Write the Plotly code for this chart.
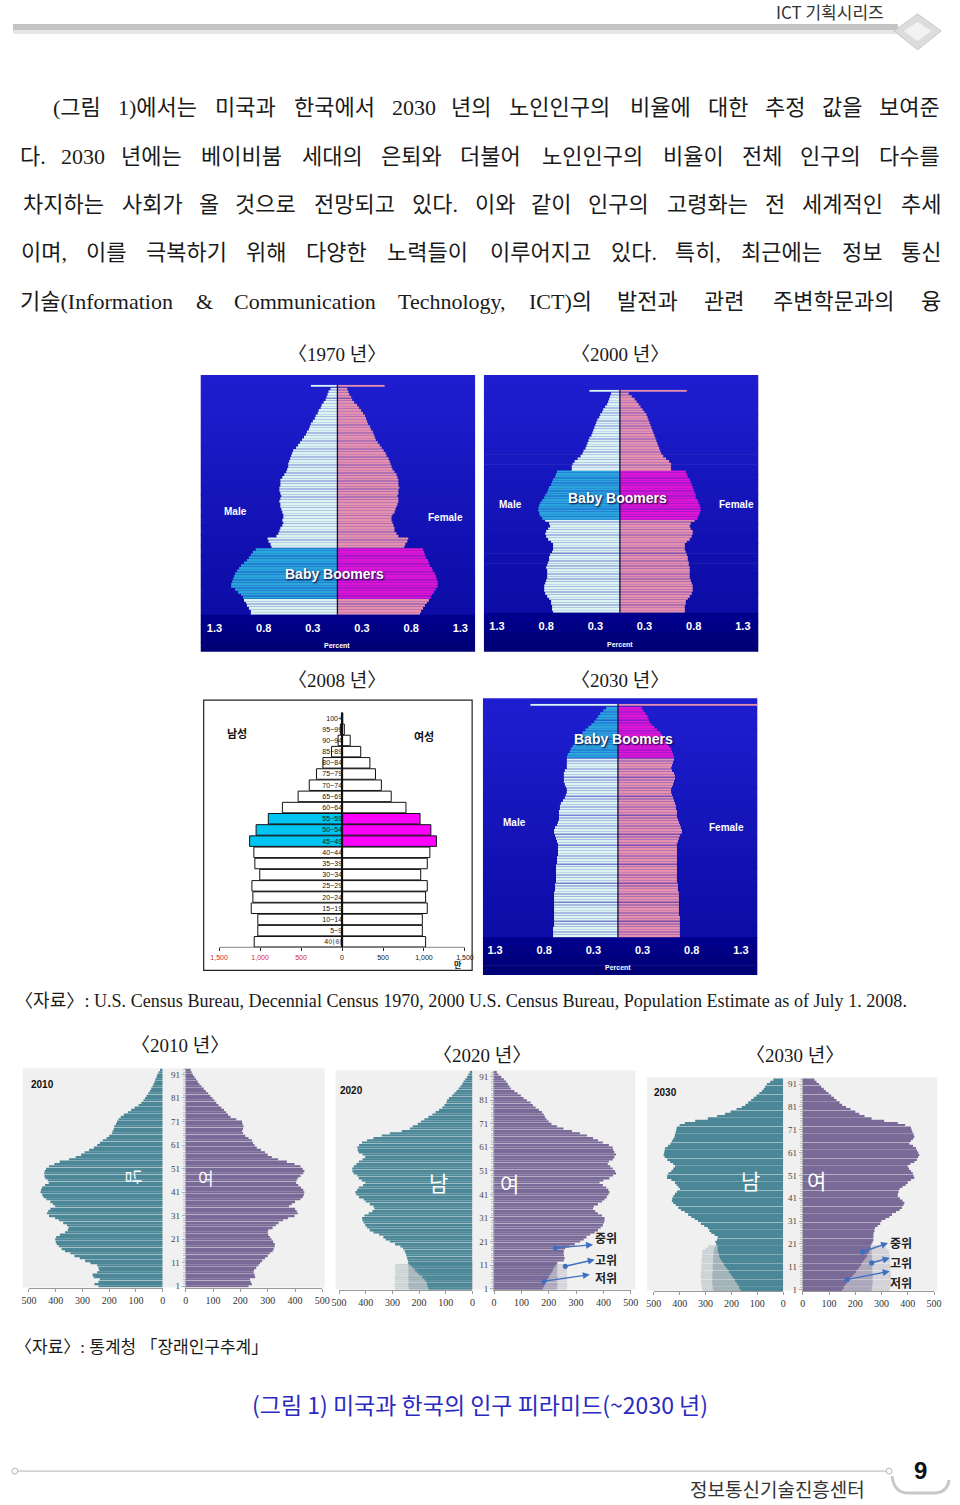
import plotly.graph_objects as go

W, H = 960, 1505


def fx(x):
    return x / W


def fy(y):
    return 1 - y / H


# ============================ DATA ============================
# ---- US Census single-year pyramids (percent of population), ages 0..84, last entry = 85+ ----
us_ages = list(range(86))

us1970_male = [0.88, 0.88, 0.90, 0.92, 0.93, 0.95, 0.96, 0.98, 1.01, 1.04,
               1.08, 1.08, 1.07, 1.06, 1.05, 1.04, 1.02, 1.00, 0.98, 0.95,
               0.92, 0.90, 0.88, 0.86, 0.83, 0.67, 0.68, 0.70, 0.71, 0.62,
               0.60, 0.59, 0.58, 0.56, 0.55, 0.56, 0.55, 0.55, 0.56, 0.57,
               0.58, 0.58, 0.59, 0.58, 0.57, 0.58, 0.59, 0.59, 0.58, 0.58,
               0.58, 0.56, 0.54, 0.52, 0.51, 0.50, 0.50, 0.49, 0.48, 0.47,
               0.46, 0.45, 0.42, 0.40, 0.38, 0.36, 0.34, 0.32, 0.31, 0.29,
               0.28, 0.27, 0.25, 0.23, 0.22, 0.20, 0.19, 0.17, 0.16, 0.14,
               0.12, 0.11, 0.10, 0.09, 0.07, 0.27]
us1970_female = [0.84, 0.85, 0.87, 0.89, 0.91, 0.93, 0.95, 0.96, 0.98, 1.00,
                 1.02, 1.02, 1.02, 1.01, 1.00, 0.99, 0.97, 0.96, 0.94, 0.93,
                 0.92, 0.90, 0.89, 0.88, 0.87, 0.68, 0.69, 0.71, 0.72, 0.62,
                 0.60, 0.58, 0.58, 0.57, 0.56, 0.55, 0.55, 0.56, 0.58, 0.59,
                 0.60, 0.61, 0.62, 0.62, 0.61, 0.62, 0.62, 0.63, 0.62, 0.62,
                 0.62, 0.61, 0.60, 0.58, 0.56, 0.55, 0.54, 0.53, 0.52, 0.50,
                 0.49, 0.47, 0.45, 0.43, 0.41, 0.39, 0.38, 0.37, 0.36, 0.34,
                 0.33, 0.31, 0.30, 0.29, 0.28, 0.26, 0.24, 0.22, 0.20, 0.17,
                 0.15, 0.14, 0.12, 0.11, 0.10, 0.48]
us1970_boomer_ages = [6, 24]

us2000_male = [0.68, 0.69, 0.69, 0.70, 0.70, 0.72, 0.74, 0.76, 0.77, 0.77,
               0.77, 0.76, 0.75, 0.74, 0.74, 0.74, 0.74, 0.75, 0.74, 0.73,
               0.72, 0.72, 0.71, 0.69, 0.68, 0.68, 0.68, 0.70, 0.73, 0.75,
               0.76, 0.75, 0.73, 0.71, 0.72, 0.76, 0.79, 0.81, 0.82, 0.83,
               0.83, 0.82, 0.81, 0.79, 0.77, 0.76, 0.74, 0.73, 0.72, 0.70,
               0.69, 0.68, 0.66, 0.65, 0.64, 0.49, 0.49, 0.48, 0.46, 0.43,
               0.40, 0.38, 0.37, 0.35, 0.34, 0.33, 0.32, 0.31, 0.29, 0.28,
               0.27, 0.26, 0.25, 0.24, 0.23, 0.21, 0.20, 0.18, 0.17, 0.15,
               0.13, 0.12, 0.11, 0.10, 0.09, 0.31]
us2000_female = [0.66, 0.66, 0.66, 0.67, 0.67, 0.69, 0.71, 0.73, 0.74, 0.74,
                 0.74, 0.73, 0.72, 0.71, 0.71, 0.71, 0.71, 0.71, 0.70, 0.70,
                 0.69, 0.69, 0.68, 0.67, 0.66, 0.66, 0.66, 0.68, 0.71, 0.73,
                 0.74, 0.74, 0.72, 0.71, 0.72, 0.76, 0.79, 0.80, 0.81, 0.82,
                 0.82, 0.81, 0.80, 0.79, 0.77, 0.77, 0.76, 0.75, 0.74, 0.73,
                 0.72, 0.71, 0.69, 0.68, 0.67, 0.52, 0.52, 0.52, 0.50, 0.47,
                 0.44, 0.42, 0.41, 0.40, 0.39, 0.38, 0.37, 0.36, 0.35, 0.34,
                 0.33, 0.32, 0.31, 0.30, 0.29, 0.28, 0.27, 0.25, 0.23, 0.21,
                 0.19, 0.17, 0.15, 0.12, 0.09, 0.68]
us2000_boomer_ages = [36, 54]

us2030_male = [0.66, 0.66, 0.66, 0.66, 0.65, 0.65, 0.65, 0.65, 0.65, 0.65,
               0.65, 0.65, 0.65, 0.65, 0.65, 0.65, 0.65, 0.64, 0.64, 0.64,
               0.63, 0.63, 0.63, 0.63, 0.63, 0.63, 0.63, 0.62, 0.62, 0.62,
               0.61, 0.61, 0.61, 0.61, 0.61, 0.62, 0.63, 0.64, 0.65, 0.65,
               0.64, 0.62, 0.61, 0.60, 0.60, 0.60, 0.60, 0.59, 0.59, 0.58,
               0.56, 0.54, 0.53, 0.52, 0.52, 0.53, 0.54, 0.55, 0.55, 0.55,
               0.55, 0.54, 0.52, 0.52, 0.52, 0.52, 0.52, 0.51, 0.49, 0.48,
               0.46, 0.44, 0.43, 0.41, 0.39, 0.36, 0.33, 0.30, 0.27, 0.24,
               0.22, 0.20, 0.18, 0.15, 0.12, 0.89]
us2030_female = [0.63, 0.63, 0.63, 0.63, 0.63, 0.63, 0.63, 0.63, 0.62, 0.62,
                 0.62, 0.62, 0.62, 0.62, 0.62, 0.62, 0.62, 0.61, 0.61, 0.61,
                 0.60, 0.60, 0.60, 0.60, 0.60, 0.60, 0.60, 0.60, 0.60, 0.60,
                 0.60, 0.60, 0.60, 0.60, 0.60, 0.61, 0.62, 0.63, 0.65, 0.65,
                 0.64, 0.63, 0.62, 0.61, 0.60, 0.60, 0.60, 0.59, 0.59, 0.58,
                 0.57, 0.56, 0.55, 0.54, 0.54, 0.55, 0.56, 0.57, 0.58, 0.58,
                 0.57, 0.55, 0.54, 0.55, 0.56, 0.57, 0.57, 0.56, 0.55, 0.54,
                 0.52, 0.50, 0.49, 0.47, 0.45, 0.43, 0.40, 0.37, 0.34, 0.32,
                 0.31, 0.30, 0.28, 0.26, 0.24, 1.45]
us2030_boomer_ages = [66, 84]

us_tick_vals = [-1.25, -0.75, -0.25, 0.25, 0.75, 1.25]
us_tick_text = ["1.3", "0.8", "0.3", "0.3", "0.8", "1.3"]

# ---- US 2008 five-year groups (만 명) ----
us2008_groups = ["4이하", "5~9", "10~14", "15~19", "20~24", "25~29", "30~34",
                 "35~39", "40~44", "45~49", "50~54", "55~59", "60~64", "65~69",
                 "70~74", "75~79", "80~84", "85~89", "90~94", "95~99", "100+"]
us2008_male = [1072, 1028, 1028, 1108, 1088, 1100, 1004, 1064, 1076, 1128, 1049,
               900, 728, 536, 400, 312, 233, 128, 48, 20, 5]
us2008_female = [1020, 980, 980, 1040, 1020, 1040, 960, 1040, 1072, 1152, 1084,
                 952, 780, 600, 480, 408, 340, 228, 100, 28, 8]
us2008_boomer_groups = ["45~49", "50~54", "55~59"]
us2008_tick_vals = [-1500, -1000, -500, 0, 500, 1000, 1500]
us2008_tick_text = ["1,500", "1,000", "500", "0", "500", "1,000", "1,500"]

# ---- Korea projections (천 명) by age category 1..93 ----
kr_ages = list(range(1, 94))

kr2010_male = [240, 255, 240, 235, 258, 262, 245, 237, 240, 245,
               270, 290, 310, 330, 345, 365, 378, 388, 396, 400,
               402, 398, 384, 365, 355, 352, 358, 372, 388, 402,
               425, 433, 428, 420, 402, 410, 420, 435, 445, 450,
               457, 455, 451, 440, 426, 430, 439, 442, 443, 441,
               436, 425, 405, 385, 350, 325, 305, 292, 275, 257,
               245, 235, 224, 210, 200, 190, 187, 183, 181, 175,
               171, 165, 157, 145, 130, 118, 105, 90, 80, 72,
               66, 60, 54, 48, 43, 38, 34, 30, 27, 23,
               20, 15, 10]
kr2010_female = [230, 242, 238, 235, 254, 252, 248, 250, 258, 266,
                 272, 280, 290, 300, 308, 318, 322, 326, 326, 320,
                 314, 308, 302, 300, 302, 318, 330, 340, 356, 374,
                 398, 410, 406, 400, 378, 388, 400, 420, 428, 432,
                 434, 430, 422, 412, 404, 406, 410, 420, 430, 434,
                 428, 420, 398, 370, 338, 315, 300, 290, 275, 260,
                 252, 246, 242, 230, 218, 210, 206, 210, 212, 208,
                 206, 185, 164, 155, 148, 140, 130, 120, 112, 105,
                 98, 90, 82, 74, 66, 58, 50, 44, 38, 32,
                 26, 22, 18]

kr2020_male = [165, 168, 170, 174, 180, 188, 199, 207, 215, 224,
               232, 240, 242, 245, 248, 250, 254, 260, 270, 290,
               310, 325, 334, 350, 371, 385, 395, 402, 408, 412,
               414, 405, 389, 375, 368, 371, 385, 400, 408, 425,
               435, 439, 432, 426, 410, 402, 415, 426, 432, 445,
               450, 451, 445, 435, 426, 412, 402, 412, 426, 430,
               432, 425, 414, 395, 371, 340, 310, 265, 235, 224,
               205, 193, 180, 165, 150, 138, 125, 113, 105, 98,
               95, 88, 76, 68, 60, 52, 45, 38, 33, 27,
               20, 15, 10]
kr2020_female = [178, 182, 186, 190, 195, 200, 205, 210, 215, 220,
                 225, 230, 255, 258, 256, 254, 255, 260, 275, 295,
                 315, 328, 338, 352, 368, 380, 390, 398, 402, 404,
                 404, 395, 380, 370, 362, 365, 380, 395, 404, 412,
                 418, 422, 418, 410, 398, 386, 400, 422, 435, 446,
                 442, 434, 425, 416, 420, 434, 440, 446, 440, 436,
                 434, 420, 398, 380, 362, 340, 314, 285, 254, 230,
                 210, 200, 192, 186, 182, 175, 164, 152, 142, 134,
                 120, 108, 98, 86, 74, 62, 56, 50, 44, 36,
                 26, 16, 10]
kr2020_high_male = [290, 291, 292, 290, 291, 292, 290, 289, 290, 291, 289]
kr2020_mid_male = [238, 240, 241, 239, 240, 241, 240, 239, 240, 241, 240, 242]
kr2020_high_female = [266, 267, 268, 266, 267, 268, 267, 266, 267, 268, 266]
kr2020_mid_female = [230, 231, 232, 230, 231, 232, 231, 230, 231, 232, 231, 232]

kr2030_male = [165, 170, 175, 180, 186, 192, 198, 204, 210, 216,
               222, 228, 234, 240, 244, 248, 250, 252, 253, 253,
               259, 262, 255, 253, 265, 278, 285, 291, 305, 318,
               329, 342, 355, 367, 380, 395, 405, 415, 425, 430,
               428, 424, 418, 410, 399, 405, 412, 418, 432, 449,
               448, 443, 432, 425, 418, 425, 437, 448, 458, 462,
               460, 458, 456, 445, 435, 430, 425, 420, 418, 415,
               413, 411, 400, 380, 340, 291, 255, 225, 203, 180,
               160, 146, 135, 124, 114, 103, 92, 82, 75, 69,
               63, 50, 38]
kr2030_female = [150, 156, 162, 168, 175, 182, 189, 196, 203, 210,
                 216, 222, 228, 234, 240, 245, 250, 253, 256, 258,
                 262, 266, 269, 269, 269, 270, 273, 275, 285, 295,
                 300, 315, 330, 340, 355, 369, 378, 384, 387, 380,
                 370, 362, 362, 365, 369, 380, 392, 400, 412, 425,
                 422, 419, 412, 405, 400, 410, 425, 435, 440, 444,
                 440, 435, 431, 420, 406, 412, 420, 425, 422, 418,
                 415, 412, 390, 362, 310, 262, 235, 215, 200, 182,
                 165, 150, 140, 128, 119, 108, 98, 88, 80, 70,
                 62, 52, 44]
kr2030_high_male = [312, 314, 316, 317, 318, 318, 318, 318, 317, 317,
                    316, 316, 315, 315, 314, 314, 313, 312, 300, 290]
kr2030_mid_male = [270, 272, 273, 274, 274, 274, 274, 273, 273, 272,
                   272, 272, 271, 271, 270, 270, 269, 268, 266, 262]
kr2030_high_female = [330, 333, 335, 336, 336, 336, 336, 335, 335, 334,
                      334, 333, 333, 332, 332, 331, 330, 328, 320, 300]
kr2030_mid_female = [262, 264, 265, 266, 266, 266, 266, 266, 265, 265,
                     265, 264, 264, 264, 263, 263, 262, 262, 260, 258]

kr_age_ticks = [1, 11, 21, 31, 41, 51, 61, 71, 81, 91]
kr_x_ticks = [0, 100, 200, 300, 400, 500]

# ============================ STYLE ============================
SERIF = "Liberation Serif, Noto Sans CJK KR, serif"
SANS_KR = "Noto Sans CJK KR, sans-serif"
ARIAL = "Liberation Sans, Arial, sans-serif"

US_MALE = "#dcf4f1"
US_FEMALE = "#e690b0"
US_BOOM_M = "#2aa6dc"
US_BOOM_F = "#de16d4"
BLUE_TOP = (30, 30, 208)
BLUE_MID = (12, 12, 166)
BAND_TOP = (0, 0, 140)
BAND_BOT = (0, 0, 118)

KR_M = "#4b8797"
KR_M_MID = "#a3b5ba"
KR_M_HIGH = "#cdd4d7"
KR_F = "#796a98"
KR_F_MID = "#aea8bc"
KR_F_HIGH = "#d5d3da"
KR_BG = "#f0f0f0"

TIMES = {}
for chars, widths in [
    ("abcdefghijklmnopqrstuvwxyz",
     [444, 500, 444, 500, 444, 333, 500, 500, 278, 278, 500, 278, 778, 500, 500, 500, 500, 333, 389, 278, 500, 500, 722, 500, 500, 444]),
    ("ABCDEFGHIJKLMNOPQRSTUVWXYZ",
     [722, 667, 667, 722, 611, 556, 722, 722, 333, 389, 722, 611, 889, 722, 722, 556, 722, 667, 556, 611, 722, 722, 944, 722, 722, 611]),
]:
    for c, w in zip(chars, widths):
        TIMES[c] = w / 1000
for c in "0123456789":
    TIMES[c] = 0.5
TIMES.update({" ": 0.25, "(": 0.333, ")": 0.333, ",": 0.25, ".": 0.25, "&": 0.778,
              "~": 0.541, ":": 0.278, "〈": 1.0, "〉": 1.0, "「": 1.0, "」": 1.0})


def text_em(s):
    w = 0.0
    for ch in s:
        if "\uac00" <= ch <= "\ud7a3":
            w += 1.0
        else:
            w += TIMES.get(ch, 0.5)
    return w


fig = go.Figure()
layout_axes = {}
shapes = []
annotations = []


def names(i):
    s = "" if i == 1 else str(i)
    return "x" + s, "y" + s, "xaxis" + s, "yaxis" + s


def rect(x0, y0, x1, y1, fill, line=None, lw=0, layer="below"):
    shapes.append(dict(type="rect", xref="paper", yref="paper", x0=fx(x0), x1=fx(x1),
                       y0=fy(y1), y1=fy(y0), fillcolor=fill,
                       line=dict(color=line or fill, width=lw), layer=layer))


def gradient(x0, x1, y0, y1, c0, c1, n):
    for k in range(n):
        t = k / max(n - 1, 1)
        col = tuple(round(c0[j] + (c1[j] - c0[j]) * t) for j in range(3))
        ya = y0 + (y1 - y0) * k / n
        yb = y0 + (y1 - y0) * (k + 1) / n
        rect(x0, ya, x1, yb + 0.6, "rgb(%d,%d,%d)" % col)


def ann(text, x, y, size, color="#222", family=SANS_KR, xanchor="center", **kw):
    d = dict(text=text, x=fx(x), y=fy(y), xref="paper", yref="paper", showarrow=False,
             xanchor=xanchor, yanchor="middle", font=dict(size=size, color=color, family=family))
    d["font"].update(kw.pop("font_extra", {}))
    d.update(kw)
    annotations.append(d)


# ============================ US blue pyramids ============================
def us_panel(idx, male, female, boom, box, center_x, y0_px, y85_px, lbl):
    xa, ya, xan, yan = names(idx)
    bx0, bx1, by0, by1 = box
    step = (y0_px - y85_px) / 85
    top = y85_px - 0.5 * step
    bot = y0_px + 0.5 * step
    gradient(bx0, bx1, by0, bot, BLUE_TOP, BLUE_MID, 24)
    gradient(bx0, bx1, bot, by1, BAND_TOP, BAND_BOT, 4)
    lo, hi = boom
    cm = [US_BOOM_M if lo <= a <= hi else US_MALE for a in us_ages]
    cf = [US_BOOM_F if lo <= a <= hi else US_FEMALE for a in us_ages]
    widths = [0.45 if a == 85 else 0.72 for a in us_ages]
    fig.add_trace(go.Bar(x=[-v for v in male], y=us_ages, orientation="h", width=widths,
                         marker=dict(color=cm, line=dict(width=0)), xaxis=xa, yaxis=ya,
                         hoverinfo="skip", showlegend=False))
    fig.add_trace(go.Bar(x=female, y=us_ages, orientation="h", width=widths,
                         marker=dict(color=cf, line=dict(width=0)), xaxis=xa, yaxis=ya,
                         hoverinfo="skip", showlegend=False))
    layout_axes[xan] = dict(domain=[fx(bx0), fx(bx1)],
                            range=[(bx0 - center_x) / 100, (bx1 - center_x) / 100],
                            anchor=ya, tickvals=us_tick_vals, ticktext=us_tick_text,
                            ticks="", showline=False, showgrid=False, zeroline=False,
                            ticklabelstandoff=5,
                            tickfont=dict(family=ARIAL, size=11, color="white", weight="bold"))
    layout_axes[yan] = dict(domain=[fy(bot), fy(top)], range=[-0.5, 85.5], anchor=xa,
                            visible=False)
    shapes.append(dict(type="line", xref=xa, yref=ya + " domain", x0=0, x1=0, y0=0, y1=1,
                       line=dict(color="#101040", width=1.3), layer="above"))
    for t, (x, y, size) in lbl.items():
        if t == "Baby Boomers":
            ann(t, x, y, size, "white", ARIAL,
                font_extra=dict(weight="bold", shadow="1px 1px 2px #000033"))
        else:
            ann(t, x, y, size, "white", ARIAL, font_extra=dict(weight="bold"))


us_panel(1, us1970_male, us1970_female, us1970_boomer_ages, (196, 475, 376, 653), 335.0,
         615.0, 387.0,
         {"Male": (231, 513, 10), "Female": (445, 519, 10), "Baby Boomers": (332, 576, 14),
          "Percent": (335, 647, 7)})
us_panel(2, us2000_male, us2000_female, us2000_boomer_ages, (484, 763, 376, 653), 622.3,
         613.0, 392.0,
         {"Male": (511, 506, 10), "Female": (741, 506, 10), "Baby Boomers": (620, 499, 14),
          "Percent": (622, 646, 7)})
us_panel(4, us2030_male, us2030_female, us2030_boomer_ages, (483, 762, 700, 977), 620.3,
         938.5, 707.0,
         {"Male": (515, 825, 10), "Female": (731, 830, 10), "Baby Boomers": (626, 741, 14),
          "Percent": (620, 970, 7)})

# ============================ US 2008 (white) ============================
xa, ya, xan, yan = names(3)
rect(199, 702, 472, 973, "white", "#222", 1.2)
zero8 = 339.7
u_per_px = 12.0
c_top, c_bot = 720.0, 944.3
step8 = (c_bot - c_top) / 20
cm8 = [("#00c4f2" if g in us2008_boomer_groups else "white") for g in us2008_groups]
cf8 = [("#ff00ff" if g in us2008_boomer_groups else "white") for g in us2008_groups]
fig.add_trace(go.Bar(x=[-v for v in us2008_male], y=us2008_groups, orientation="h", width=0.94,
                     marker=dict(color=cm8, line=dict(color="#111", width=1)), xaxis=xa, yaxis=ya,
                     hoverinfo="skip", showlegend=False))
fig.add_trace(go.Bar(x=us2008_female, y=us2008_groups, orientation="h", width=0.94,
                     marker=dict(color=cf8, line=dict(color="#111", width=1)), xaxis=xa, yaxis=ya,
                     hoverinfo="skip", showlegend=False))
tt8 = [('<span style="color:#d02828">%s</span>' % t) if v < 0 else t
       for v, t in zip(us2008_tick_vals, us2008_tick_text)]
layout_axes[xan] = dict(domain=[fx(199), fx(472)],
                        range=[(199 - zero8) * u_per_px, (472 - zero8) * u_per_px], anchor=ya,
                        tickvals=us2008_tick_vals, ticktext=tt8, ticks="outside", ticklen=3,
                        tickcolor="#222", showline=False, showgrid=False, zeroline=False,
                        tickfont=dict(family=ARIAL, size=7, color="#111"))
layout_axes[yan] = dict(domain=[fy(c_bot + step8 / 2), fy(c_top - step8 / 2)],
                        range=[-0.5, 20.5], anchor="free", position=fx(zero8), side="left",
                        type="category", ticks="", showline=False, showgrid=False,
                        zeroline=False, tickfont=dict(family=ARIAL, size=7, color="#111"))
shapes.append(dict(type="line", xref=xa, yref=ya, x0=us2008_tick_vals[0], x1=us2008_tick_vals[-1],
                   y0=-0.5, y1=-0.5, line=dict(color="#222", width=1), layer="above"))
shapes.append(dict(type="line", xref=xa, yref=ya, x0=0, x1=0, y0=-0.5, y1=20.6,
                   line=dict(color="#111", width=2.2), layer="above"))
ann("남성", 233, 735, 11, "#111", SANS_KR, font_extra=dict(weight="bold"))
ann("여성", 423, 738, 11, "#111", SANS_KR, font_extra=dict(weight="bold"))
ann("만", 458, 967, 8, "#111", SANS_KR, font_extra=dict(weight="bold"))


# ============================ Korea pyramids ============================
def kr_panel(im, iff, male, female, variants, xm, xf, cat1_px, step, bg, year, year_xy,
             nam, yeo, rot):
    xam, yam, xanm, yanm = names(im)
    xaf, yaf, xanf, yanf = names(iff)
    rect(bg[0], bg[1], bg[2], bg[3], KR_BG)
    bot = cat1_px + 0.6 * step
    top = cat1_px - 92.6 * step
    ydom = [fy(bot), fy(top)]
    for vals, col, side in variants:
        cats = kr_ages[:len(vals)]
        fig.add_trace(go.Bar(x=vals, y=cats, orientation="h", width=0.8,
                             marker=dict(color=col, line=dict(width=0)),
                             xaxis=xam if side == "m" else xaf, yaxis=yam if side == "m" else yaf,
                             hoverinfo="skip", showlegend=False))
    fig.add_trace(go.Bar(x=male, y=kr_ages, orientation="h", width=0.8,
                         marker=dict(color=KR_M, line=dict(width=0)), xaxis=xam, yaxis=yam,
                         hoverinfo="skip", showlegend=False))
    fig.add_trace(go.Bar(x=female, y=kr_ages, orientation="h", width=0.8,
                         marker=dict(color=KR_F, line=dict(width=0)), xaxis=xaf, yaxis=yaf,
                         hoverinfo="skip", showlegend=False))
    xcommon = dict(tickvals=kr_x_ticks, ticks="outside", ticklen=3, tickcolor="#999",
                   showline=True, linecolor="#999", linewidth=1, showgrid=False,
                   zeroline=False, tickfont=dict(family=SERIF, size=10, color="#333"))
    layout_axes[xanm] = dict(domain=[fx(xm[0]), fx(xm[1])], range=[500, 0], anchor=yam, **xcommon)
    layout_axes[xanf] = dict(domain=[fx(xf[0]), fx(xf[1])], range=[0, 500], anchor=yaf, **xcommon)
    layout_axes[yanm] = dict(domain=ydom, range=[0.4, 93.6], anchor=xam, visible=False)
    layout_axes[yanf] = dict(domain=ydom, range=[0.4, 93.6], anchor=xaf, tickvals=kr_age_ticks,
                             ticks="outside", ticklen=3, tickcolor="#aaa", showline=True,
                             linecolor="#b0b0b0", showgrid=False, zeroline=False,
                             minor=dict(tickvals=kr_ages, ticks="outside", ticklen=2,
                                        tickcolor="#c0c0c0"),
                             tickfont=dict(family=SERIF, size=9, color="#444"))
    ann(year, year_xy[0], year_xy[1], 10, "#111", ARIAL, font_extra=dict(weight="bold"))
    ann("남", nam[0], nam[1], nam[2], "white", SANS_KR, textangle=rot)
    ann("여", yeo[0], yeo[1], yeo[2], "white", SANS_KR)


kr_panel(5, 6, kr2010_male, kr2010_female, [], (21.3, 157.3), (180.7, 319.7), 1289.7, 2.36,
         (15, 1071, 322, 1291), "2010", (35, 1087), (128, 1180, 17), (201, 1181, 17), 90)
kr_panel(7, 8, kr2020_male, kr2020_female,
         [(kr2020_high_male, KR_M_HIGH, "m"), (kr2020_mid_male, KR_M_MID, "m"),
          (kr2020_high_female, KR_F_HIGH, "f"), (kr2020_mid_female, KR_F_MID, "f")],
         (336.7, 472.3), (494.3, 633.3), 1292.0, 2.36,
         (333, 1073, 638, 1293), "2020", (349, 1093), (438, 1185, 21), (510, 1186, 21), 0)
kr_panel(9, 10, kr2030_male, kr2030_female,
         [(kr2030_high_male, KR_M_HIGH, "m"), (kr2030_mid_male, KR_M_MID, "m"),
          (kr2030_high_female, KR_F_HIGH, "f"), (kr2030_mid_female, KR_F_MID, "f")],
         (656.7, 788.3), (808.3, 941.7), 1293.0, 2.29,
         (650, 1080, 945, 1294), "2030", (669, 1095), (755, 1183, 21), (822, 1183, 21), 0)

ARROW = "#3d6fc2"
for lab, (lx, ly) in [("중위", (608, 1241)), ("고위", (608, 1263)), ("저위", (608, 1281)),
                      ("중위", (908, 1246)), ("고위", (908, 1266)), ("저위", (908, 1286))]:
    ann(lab, lx, ly, 12, "#222", SANS_KR, font_extra=dict(weight="bold"))
for (tx, ty, hx, hy) in [(556.7, 1251.3, 595, 1248), (566.7, 1269.7, 596.7, 1263),
                         (545, 1284.7, 591.7, 1278), (869, 1255.3, 895, 1246.3),
                         (878.3, 1266.3, 896.7, 1261.3), (853.3, 1283, 896.7, 1274.7)]:
    annotations.append(dict(x=fx(hx), y=fy(hy), xref="paper", yref="paper", ax=tx - hx,
                            ay=ty - hy, axref="pixel", ayref="pixel", text="", showarrow=True,
                            arrowhead=2, arrowsize=1, arrowwidth=1.4, arrowcolor=ARROW))
    shapes.append(dict(type="circle", xref="paper", yref="paper", x0=fx(tx - 2.6), x1=fx(tx + 2.6),
                       y0=fy(ty + 2.6), y1=fy(ty - 2.6), fillcolor=ARROW, line=dict(width=0),
                       layer="above"))

# ============================ page text ============================
ann("ICT 기획시리즈", 893, 12, 17, "#333", SANS_KR, xanchor="right")
rect(5, 24, 905, 30, "#c4c4c4")
rect(5, 30, 905, 34, "#e6e6e6")
shapes.append(dict(type="path", xref="paper", yref="paper", layer="above",
                   path="M %f %f L %f %f L %f %f L %f %f Z" % (
                       fx(925), fy(14), fx(949), fy(31), fx(925), fy(50), fx(901), fy(31)),
                   fillcolor="#dcdcdc", line=dict(color="#c8c8c8", width=1)))
shapes.append(dict(type="path", xref="paper", yref="paper", layer="above",
                   path="M %f %f L %f %f L %f %f L %f %f Z" % (
                       fx(925), fy(22), fx(939), fy(31), fx(925), fy(41), fx(911), fy(31)),
                   fillcolor="#f2f2f2", line=dict(width=0)))

para_lines = [
    "(그림 1)에서는 미국과 한국에서 2030 년의 노인인구의 비율에 대한 추정 값을 보여준",
    "다. 2030 년에는 베이비붐 세대의 은퇴와 더불어 노인인구의 비율이 전체 인구의 다수를",
    "차지하는 사회가 올 것으로 전망되고 있다. 이와 같이 인구의 고령화는 전 세계적인 추세",
    "이며, 이를 극복하기 위해 다양한 노력들이 이루어지고 있다. 특히, 최근에는 정보 통신",
    "기술(Information & Communication Technology, ICT)의 발전과 관련 주변학문과의 융",
]
para_y = [108, 157, 205, 253, 302]
para_x0 = [45, 12, 12, 12, 12]
PARA_SIZE = 22
PARA_RIGHT = 950
for line, y, x0 in zip(para_lines, para_y, para_x0):
    words = line.split(" ")
    widths = [text_em(w) * PARA_SIZE for w in words]
    gap = (PARA_RIGHT - x0 - sum(widths)) / (len(words) - 1)
    x = x0
    for w, wd in zip(words, widths):
        ann(w, x + wd / 2, y, PARA_SIZE, "#1a1a1a", SERIF)
        x += wd + gap

for t, (x, y) in [("〈1970 년〉", (335, 355)), ("〈2000 년〉", (622, 355)),
                  ("〈2008 년〉", (335, 682)), ("〈2030 년〉", (622, 682)),
                  ("〈2010 년〉", (175, 1048)), ("〈2020 년〉", (482, 1058)),
                  ("〈2030 년〉", (800, 1058))]:
    ann(t, x, y, 19, "#1a1a1a", SERIF)

src_us = "〈자료〉: U.S. Census Bureau, Decennial Census 1970, 2000 U.S. Census Bureau, Population Estimate as of July 1. 2008."
ann(src_us, 5, 1004, 895 / text_em(src_us), "#1a1a1a", SERIF, xanchor="left")
src_kr = "〈자료〉: 통계청 「장래인구추계」"
ann(src_kr, 5, 1351, 17, "#1a1a1a", SERIF, xanchor="left")

ann("(그림 1) 미국과 한국의 인구 피라미드(~2030 년)", 480, 1408, 23, "#2a2ac0", SANS_KR)

shapes.append(dict(type="line", xref="paper", yref="paper", x0=fx(10), x1=fx(893), y0=fy(1475),
                   y1=fy(1475), line=dict(color="#b4b4b4", width=1)))
for cx in (7, 896):
    shapes.append(dict(type="circle", xref="paper", yref="paper", x0=fx(cx - 3), x1=fx(cx + 3),
                       y0=fy(1478), y1=fy(1472), line=dict(color="#b4b4b4", width=1),
                       fillcolor="white"))
shapes.append(dict(type="path", xref="paper", yref="paper",
                   path="M %f %f Q %f %f %f %f L %f %f Q %f %f %f %f" % (
                       fx(899), fy(1480), fx(901), fy(1497), fx(916), fy(1497),
                       fx(942), fy(1497), fx(955), fy(1497), fx(957), fy(1484)),
                   line=dict(color="#c8c8c8", width=3)))
ann("9", 928, 1474, 24, "#111", ARIAL, font_extra=dict(weight="bold"))
ann("정보통신기술진흥센터", 783, 1492, 19, "#333", SANS_KR)

fig.update_layout(width=W, height=H, autosize=False, margin=dict(l=0, r=0, t=0, b=0, pad=0),
                  paper_bgcolor="white", plot_bgcolor="rgba(0,0,0,0)", barmode="overlay",
                  showlegend=False, hovermode=False, shapes=shapes, annotations=annotations,
                  **layout_axes)

post = ("document.documentElement.style.margin='0';document.documentElement.style.padding='0';"
        "document.documentElement.style.overflow='hidden';"
        "document.body.style.margin='0';document.body.style.padding='0';"
        "document.body.style.overflow='hidden';"
        "var gd=document.getElementById('{plot_id}');"
        "gd.style.position='absolute';gd.style.left='0px';gd.style.top='0px';"
        "gd.style.width='960px';gd.style.height='1505px';")
fig.write_html("out.html", config={"displayModeBar": False, "responsive": False},
               post_script=post)
